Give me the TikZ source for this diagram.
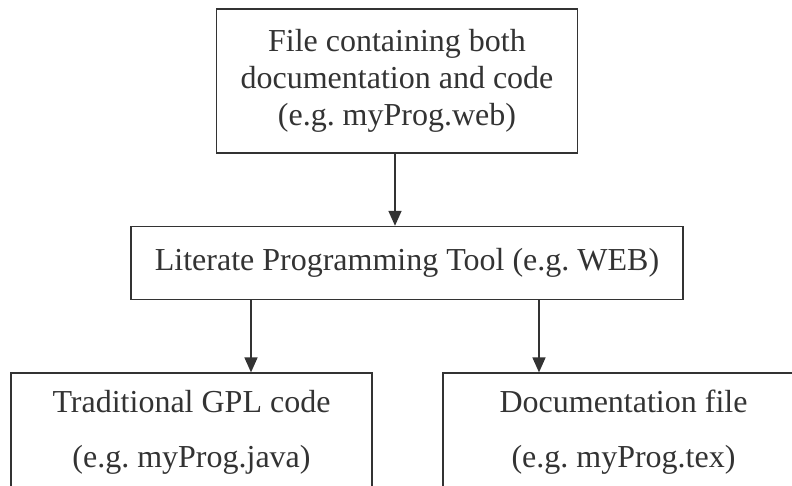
\documentclass[tikz,border=0pt]{standalone}
\usepackage{fontspec}
\setmainfont{Liberation Serif}
\usetikzlibrary{arrows.meta, positioning}
\definecolor{inkgray}{HTML}{333333}
\frenchspacing

\begin{document}
\begin{tikzpicture}[
    node distance=72bp,
    block/.style={rectangle, draw=inkgray, text=inkgray, line width=1.6bp, inner sep=0pt, align=center, font=\fontsize{32bp}{37bp}\selectfont},
    outblock/.style={block, minimum width=361bp, minimum height=118bp, font=\fontsize{32bp}{55bp}\selectfont},
    arrow/.style={-{Triangle[length=15bp, width=13bp]}, draw=inkgray, line width=1.6bp}
]
\useasboundingbox (0,0) rectangle (792bp,-486bp);
\clip (0,0) rectangle (792bp,-486bp);

% Nodes
\node[block, minimum width=361bp, minimum height=144bp] (source) at (397bp,-81bp) {File containing both\\ documentation and code\\ (e.g. myProg.web)};
\node[block, minimum width=552bp, minimum height=73bp, below=of source, xshift=10bp] (tool) {Literate Programming Tool (e.g. WEB)};

\node[outblock, below=of tool, xshift=-215.5bp] (gpl) {Traditional GPL code\\ (e.g. myProg.java)};
\node[outblock, below=of tool, xshift=216.5bp] (doc) {Documentation file\\ (e.g. myProg.tex)};

% Arrows
\draw[arrow] ([xshift=-2bp]source.south) -- ([xshift=-2bp]source.south |- tool.north);
\draw[arrow] ([xshift=-156bp]tool.south) -- ([xshift=-156bp]tool.south |- gpl.north);
\draw[arrow] ([xshift=132bp]tool.south) -- ([xshift=132bp]tool.south |- doc.north);

\end{tikzpicture}
\end{document}
